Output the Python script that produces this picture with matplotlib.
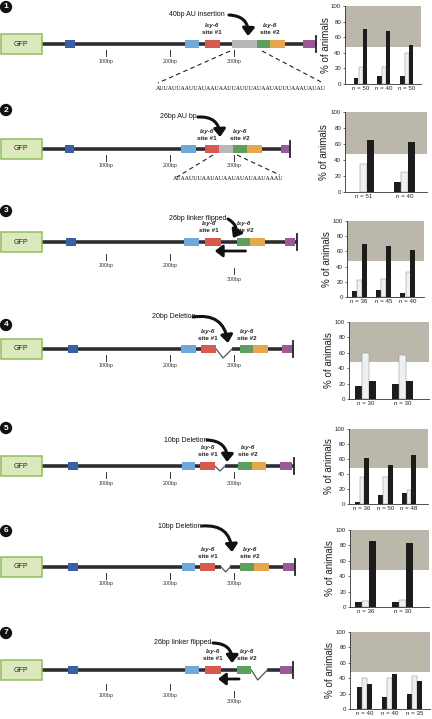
import matplotlib
matplotlib.use("Agg")
import matplotlib.pyplot as plt
from matplotlib.patches import Rectangle, FancyArrowPatch
import numpy as np

plt.rcParams['font.family'] = ['Liberation Sans', 'DejaVu Sans']

# ---------------- bar chart data ----------------
n_labels = [["n = 50", "n = 40", "n = 50"],
            ["n = 51", "n = 40"],
            ["n = 36", "n = 45", "n = 40"],
            ["n = 30", "n = 30"],
            ["n = 36", "n = 50", "n = 48"],
            ["n = 36", "n = 30"],
            ["n = 40", "n = 40", "n = 35"]]
bar_first = [[8, 10, 10], [0, 13], [8, 9, 5], [17, 20], [3, 12, 15], [6, 7], [28, 15, 20]]
bar_second = [[22, 22, 40], [35, 25], [22, 24, 33], [60, 57], [36, 36, 19], [8, 9], [40, 40, 43]]
bar_third = [[70, 68, 50], [65, 62], [70, 67, 62], [23, 23], [61, 52, 66], [86, 83], [32, 45, 37]]
shade_low = 48
y_ticks = [0, 20, 40, 60, 80, 100]

# ---------------- diagram content ----------------
panel_numbers = ["1", "2", "3", "4", "5", "6", "7"]
mutation_labels = ["40bp AU insertion", "26bp AU bp", "26bp linker flipped", "20bp Deletion",
                   "10bp Deletion", "10bp Deletion", "26bp linker flipped"]
bp_ticks = [100, 200, 300]
bp_tick_labels = ["100bp", "200bp", "300bp"]
seq_row1 = "AUUAUUAAUUAUAAUAAUUAUUUAUAAUAUUUAAAUAUAU"
seq_row2 = "AUAAUUUAAUAUAAUAUAUAAUAAAU"

W, H = 432, 719
fig = plt.figure(figsize=(W / 100, H / 100), dpi=100)
fig.patch.set_facecolor('white')

# diagram axes: x in bp, y in pixels (top = 0)
S, X0 = 0.64, 42.0
dax = fig.add_axes([0, 0, 1, 1])
dax.set_xlim(-X0 / S, (W - X0) / S)
dax.set_ylim(H, 0)
dax.axis('off')

C = dict(blue='#3b5fa6', lblue='#6ea8dc', red='#d8594f', gray='#b8b8b8', green='#5c9f5e',
         orange='#e6a64c', purple='#9b5a97', line='#2e2e2e')

# layout for each row (label centre, arrow start x, arrow tip, site label x, tick offsets)
rows = [
    dict(y=44, circ=7, lab=(197, 15), a0=229, tip=(248, 36), s1=212, s2=270, tdy=(6, 6, 6),
         feats=[('blue', 36, 52), ('lblue', 223, 245), ('red', 255, 278), ('gray', 297, 336),
                ('green', 336, 356), ('orange', 356, 380), ('purple', 408, 427)], end=428),
    dict(y=149, circ=110, lab=(178, 117), a0=198, tip=(220, 137), s1=207, s2=240, tdy=(6, 6, 6),
         feats=[('blue', 36, 50), ('lblue', 217, 241), ('red', 255, 277), ('gray', 277, 298),
                ('green', 298, 320), ('orange', 320, 344), ('purple', 373, 386)], end=388),
    dict(y=242, circ=211, lab=(198, 219), a0=228, tip=(233, 238), s1=209, s2=244, tdy=(12, 12, 26),
         feats=[('blue', 38, 53), ('lblue', 222, 245), ('red', 255, 280),
                ('green', 305, 325), ('orange', 325, 348), ('purple', 380, 396)], end=398,
         back=(318, 270)),
    dict(y=349, circ=325, lab=(174, 317), a0=193, tip=(228, 343), s1=208, s2=247, tdy=(6, 6, 6),
         feats=[('blue', 41, 56), ('lblue', 217, 241), ('red', 248, 272),
                ('green', 309, 330), ('orange', 330, 353), ('purple', 375, 391)], end=392,
         vee=(272, 283, 297, 9)),
    dict(y=466, circ=428, lab=(186, 440), a0=207, tip=(227, 462), s1=208, s2=248, tdy=(6, 6, 6),
         feats=[('blue', 41, 56), ('lblue', 219, 239), ('red', 247, 270),
                ('green', 306, 328), ('orange', 328, 350), ('purple', 372, 391)], end=394,
         vee=(270, 278, 286, 5)),
    dict(y=567, circ=531, lab=(180, 526), a0=202, tip=(232, 552), s1=208, s2=250, tdy=(6, 6, 6),
         feats=[('blue', 41, 56), ('lblue', 219, 239), ('red', 247, 270),
                ('green', 310, 332), ('orange', 332, 354), ('purple', 376, 394)], end=396,
         vee=(280, 287, 294, 5)),
    dict(y=670, circ=633, lab=(183, 643), a0=213, tip=(232, 663), s1=213, s2=247, tdy=(14, 14, 21),
         feats=[('blue', 41, 56), ('lblue', 223, 245), ('red', 255, 280),
                ('green', 305, 327), ('purple', 372, 391)], end=392,
         vee=(327, 337, 352, 10), back=(308, 275)),
]


def bpx(px):
    return (px - X0) / S


for k, r in enumerate(rows):
    y = r['y']
    # number circle
    dax.text(bpx(6), r['circ'], panel_numbers[k], color='white', fontsize=6, fontweight='bold',
             ha='center', va='center',
             bbox=dict(boxstyle='circle,pad=0.32', fc='#111111', ec='none'))
    # GFP box
    dax.add_patch(Rectangle((bpx(0.6), y - 10), bpx(41.5) - bpx(0.6), 20, fc='#dbe9bd',
                            ec='#8fbd5c', lw=1.1, zorder=3))
    dax.text(bpx(21), y, "GFP", fontsize=5, ha='center', va='center', color='#222', zorder=4)
    # main line
    if 'vee' in r:
        a, m, b, d = r['vee']
        dax.plot([0, a], [y, y], color=C['line'], lw=2.6, solid_capstyle='butt', zorder=2)
        dax.plot([b, r['end']], [y, y], color=C['line'], lw=2.6, solid_capstyle='butt', zorder=2)
        dax.plot([a, m, b], [y, y + d, y], color='#555555', lw=0.9, zorder=2)
    else:
        dax.plot([0, r['end']], [y, y], color=C['line'], lw=2.6, solid_capstyle='butt', zorder=2)
    dax.plot([r['end'], r['end']], [y - 8, y + 8], color='#222', lw=1.3, zorder=2)
    # feature boxes
    for name, a, b in r['feats']:
        dax.add_patch(Rectangle((a, y - 4), b - a, 8, fc=C[name], ec='none', zorder=3))
    # bp ticks
    for t, tl, td in zip(bp_ticks, bp_tick_labels, r['tdy']):
        dax.plot([t, t], [y + td, y + td + 6], color='#333', lw=0.7)
        dax.text(t, y + td + 11, tl, fontsize=3.8, ha='center', va='center', color='#333')
    # mutation label + curved arrow
    lx, ly = r['lab']
    dax.text(bpx(lx), ly, mutation_labels[k], fontsize=5, ha='center', va='center', color='#111')
    dax.add_patch(FancyArrowPatch((bpx(r['a0']), ly), (bpx(r['tip'][0]), r['tip'][1]),
                                  connectionstyle='arc3,rad=-0.5',
                                  arrowstyle='-|>,head_length=0.45,head_width=0.35',
                                  mutation_scale=10, lw=2.2, color='#111', zorder=5,
                                  shrinkA=0, shrinkB=0))
    # site labels
    for sx, num in ((r['s1'], '#1'), (r['s2'], '#2')):
        dax.text(bpx(sx), y - 18, "lsy-6", fontsize=4.5, fontstyle='italic', fontweight='bold',
                 ha='center', va='center', color='#222')
        dax.text(bpx(sx), y - 11, "site " + num, fontsize=4.5, fontweight='bold',
                 ha='center', va='center', color='#222')
    # flipped-linker arrow
    if 'back' in r:
        a, b = r['back']
        dax.add_patch(FancyArrowPatch((a, y + 9), (b, y + 9),
                                      arrowstyle='-|>,head_length=0.45,head_width=0.35',
                                      mutation_scale=10, lw=2.0, color='#111', zorder=5,
                                      shrinkA=0, shrinkB=0))

# sequences + dashed zoom lines
dax.plot([bpx(230), bpx(158)], [51, 83], ls=(0, (4, 3)), color='#222', lw=0.8)
dax.plot([bpx(262), bpx(323)], [51, 83], ls=(0, (4, 3)), color='#222', lw=0.8)
dax.text(bpx(241), 88, seq_row1, fontsize=4.2, family='Liberation Serif', ha='center', va='center')
dax.plot([bpx(213), bpx(177)], [155, 177], ls=(0, (4, 3)), color='#222', lw=0.8)
dax.plot([bpx(237), bpx(280)], [155, 175], ls=(0, (4, 3)), color='#222', lw=0.8)
dax.text(bpx(228), 179, seq_row2, fontsize=4.2, family='Liberation Serif', ha='center', va='center')

# ---------------- bar charts ----------------
chart_rects = [(345, 421, 6, 84), (345, 427, 112, 192), (347, 424, 221, 297), (349, 429, 322, 399),
               (349, 428, 429, 504), (350, 429, 530, 607), (350, 430, 632, 709)]
chart_centers = [(360.7, 406.8), (363.8, 404.5), (359, 408), (365.8, 402.5), (362, 409),
                 (365.8, 402.5), (364.5, 414.5)]
chart_barw = [4.4, 7, 5, 7, 4.7, 7, 4.7]
dark, light, shade = '#1c1c1c', '#eef1f1', '#bbb7ab'

for i in range(7):
    L, R, T, B = chart_rects[i]
    ax = fig.add_axes([L / W, 1 - B / H, (R - L) / W, (B - T) / H])
    ng = len(bar_first[i])
    x = np.arange(ng)
    c0, c1 = chart_centers[i]
    s = (c1 - c0) / (ng - 1)
    ax.set_xlim((L - c0) / s, (R - c0) / s)
    ax.set_ylim(0, 100)
    bw = chart_barw[i] / s
    ax.axhspan(shade_low, 100, color=shade, lw=0, zorder=0)
    ax.bar(x - bw, bar_first[i], bw, color=dark, zorder=2)
    ax.bar(x, bar_second[i], bw, color=light, edgecolor='#8a8a8a', lw=0.35, zorder=2)
    ax.bar(x + bw, bar_third[i], bw, color=dark, zorder=2)
    ax.set_xticks(x)
    ax.set_xticklabels(n_labels[i], fontsize=4.4, color='#222')
    ax.tick_params(axis='x', length=0, pad=1.5)
    ax.set_yticks(y_ticks)
    ax.set_yticklabels([str(v) for v in y_ticks], fontsize=4.4, color='#222')
    ax.tick_params(axis='y', length=1.8, width=0.5, pad=1, color='#333')
    for sp in ('top', 'right'):
        ax.spines[sp].set_visible(False)
    for sp in ('left', 'bottom'):
        ax.spines[sp].set_linewidth(0.6)
        ax.spines[sp].set_color('#333')
    ax.set_facecolor('none')
    ax.set_ylabel("% of animals", fontsize=7, color='#222')
    ax.yaxis.set_label_coords(-0.19, 0.5)

fig.savefig("out.png", dpi=100, facecolor='white')
